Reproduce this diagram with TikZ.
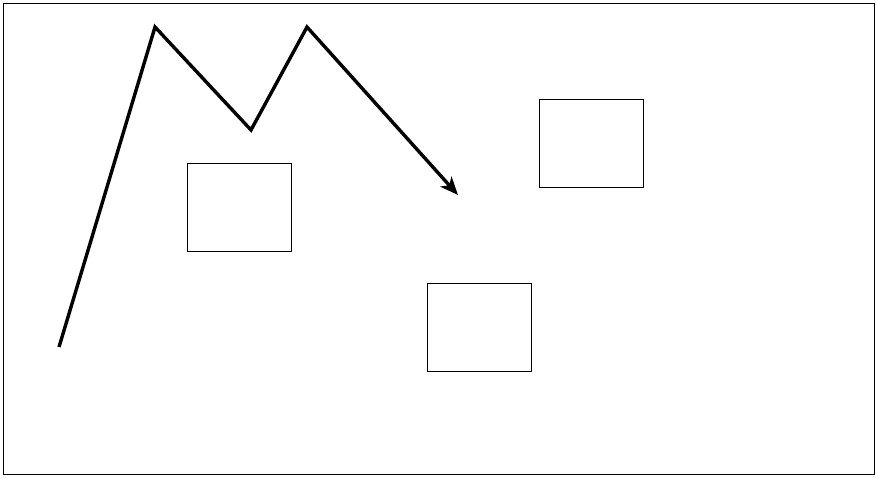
\documentclass[tikz,border=0pt]{standalone}
\usetikzlibrary{arrows.meta}
\begin{document}
\begin{tikzpicture}[x=1pt,y=-1pt,
  boxstyle/.style={draw=black,line width=1pt,minimum width=104pt,minimum height=88pt,inner sep=0pt,anchor=north west},
  pathstyle/.style={draw=black,line width=3.4pt,line join=miter,-{Stealth[length=18pt,width=15pt,inset=5pt]}}]
\useasboundingbox (0,0) rectangle (876,477);
\draw[line width=1pt] (3,3) rectangle (874,474);
\node[boxstyle] (b1) at (187,163) {};
\node[boxstyle] (b2) at (539,99) {};
\node[boxstyle] (b3) at (427,283) {};
\coordinate (p0) at (59,347);
\coordinate (p1) at (155,27);
\coordinate (p2) at (251,130);
\coordinate (p3) at (307,27);
\coordinate (p4) at (458,195);
\draw[pathstyle] (p0) -- (p1) -- (p2) -- (p3) -- (p4);
\end{tikzpicture}
\end{document}
